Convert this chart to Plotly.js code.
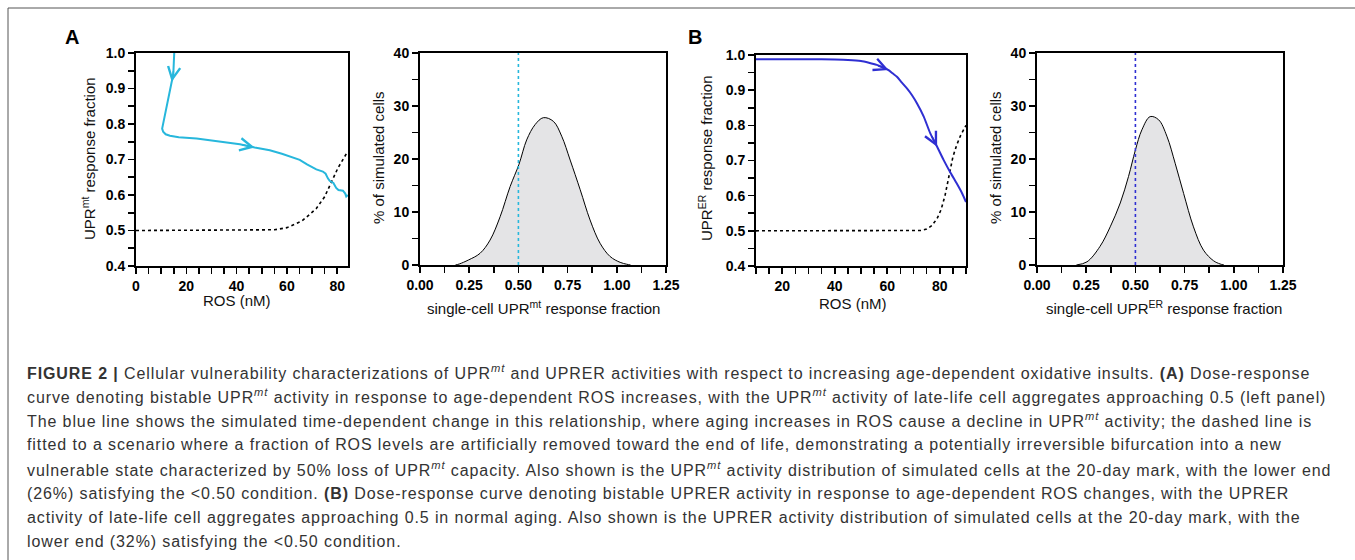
<!DOCTYPE html>
<html><head><meta charset="utf-8">
<script src="https://cdn.plot.ly/plotly-3.0.1.min.js"></script>
<style>
html,body{margin:0;padding:0;background:#fff;}
#chart{width:1355px;height:560px;}
g.annotation[data-index="0"] text, g.annotation[data-index="1"] text, g.annotation[data-index="2"] text,
g.annotation[data-index="3"] text, g.annotation[data-index="4"] text, g.annotation[data-index="5"] text,
g.annotation[data-index="6"] text, g.annotation[data-index="7"] text { letter-spacing: 0.9px; }
</style>
</head><body><div id="chart"></div>
<script>
// ---------- data ----------
// Panel A, left: UPRmt response vs ROS
const aCurveRos = [15.2, 15.1, 14.8, 14.2, 13.3, 12.2, 11.2, 10.5, 10.4, 10.8, 11.8, 13.5, 17, 24.1, 30, 35, 41.3, 47.2, 53.2, 58, 62.4, 65.1, 68, 71.7, 74.3, 75.4, 76.3, 77, 78.5, 79.6, 80.5, 82.3, 83.2, 83.6, 84.2];
const aCurveUpr = [1.0, 0.97, 0.935, 0.919, 0.89, 0.854, 0.82, 0.797, 0.787, 0.778, 0.771, 0.767, 0.763, 0.759, 0.754, 0.75, 0.743, 0.734, 0.726, 0.716, 0.706, 0.699, 0.686, 0.672, 0.666, 0.66, 0.647, 0.64, 0.634, 0.62, 0.614, 0.612, 0.604, 0.596, 0.6];
const aFitRos = [0, 10, 20, 30, 40, 50, 55, 60, 62.4, 66, 69, 71.7, 75, 77.6, 80.3, 83.8, 84.3];
const aFitUpr = [0.5, 0.5, 0.5, 0.5, 0.5, 0.5, 0.502, 0.508, 0.515, 0.527, 0.545, 0.562, 0.595, 0.633, 0.676, 0.718, 0.722];
const aArrowRos = [14.2, 47.2];
const aArrowUpr = [0.919, 0.734];
// Panel A, right: distribution of single-cell UPRmt response
const aHistFrac = [0.18, 0.2, 0.246, 0.305, 0.356, 0.407, 0.458, 0.503, 0.542, 0.585, 0.627, 0.678, 0.72, 0.763, 0.814, 0.864, 0.915, 0.966, 1.017, 1.05, 1.07];
const aHistPct  = [0, 0.2, 0.94, 2.2, 4.7, 9.1, 14.8, 19.0, 23.6, 26.5, 27.8, 27.1, 24.3, 19.8, 14.2, 8.5, 4.1, 1.6, 0.5, 0.15, 0];
// Panel B, left: UPRER response vs ROS
const bCurveRos = [10, 20, 30, 40, 45, 50, 53, 56, 58.5, 60.5, 62, 63.7, 65.5, 67.5, 69.5, 71.3, 73.9, 76.4, 79, 81.5, 84.1, 86.6, 88.5, 90];
const bCurveUpr = [0.988, 0.988, 0.988, 0.987, 0.986, 0.983, 0.978, 0.972, 0.965, 0.957, 0.948, 0.938, 0.922, 0.905, 0.885, 0.863, 0.825, 0.777, 0.739, 0.701, 0.665, 0.633, 0.607, 0.582];
const bFitRos = [10, 20, 30, 40, 50, 60, 70, 73, 75, 77, 79, 80.5, 82, 83.4, 85, 86.5, 88, 90];
const bFitUpr = [0.5, 0.5, 0.5, 0.5, 0.5, 0.5, 0.5, 0.501, 0.505, 0.515, 0.535, 0.56, 0.6, 0.655, 0.71, 0.745, 0.772, 0.8];
const bArrowRos = [60.5, 79];
const bArrowUpr = [0.957, 0.739];
// Panel B, right: distribution of single-cell UPRER response
const bHistFrac = [0.2, 0.254, 0.32, 0.372, 0.423, 0.465, 0.5, 0.533, 0.575, 0.618, 0.66, 0.702, 0.745, 0.795, 0.846, 0.897, 0.93, 0.95];
const bHistPct  = [0, 0.6, 3.5, 7.2, 11.7, 16.7, 21.7, 25.5, 28.0, 27.4, 24.3, 19.2, 13.5, 7.2, 2.8, 0.8, 0.2, 0];
// threshold and axis extents
const threshold = 0.5;
const pctRange = [0, 40];
const rosRangeA = [0, 84.3];
const rosRangeB = [10, 90];
const uprRange = [0.4, 1.0];
const fracRange = [0, 1.25];

const captionLines = [
  '<b>FIGURE 2 |</b> Cellular vulnerability characterizations of UPR<sup><i>mt</i></sup> and UPRER activities with respect to increasing age-dependent oxidative insults. <b>(A)</b> Dose-response',
  'curve denoting bistable UPR<sup><i>mt</i></sup> activity in response to age-dependent ROS increases, with the UPR<sup><i>mt</i></sup> activity of late-life cell aggregates approaching 0.5 (left panel)',
  'The blue line shows the simulated time-dependent change in this relationship, where aging increases in ROS cause a decline in UPR<sup><i>mt</i></sup> activity; the dashed line is',
  'fitted to a scenario where a fraction of ROS levels are artificially removed toward the end of life, demonstrating a potentially irreversible bifurcation into a new',
  'vulnerable state characterized by 50% loss of UPR<sup><i>mt</i></sup> capacity. Also shown is the UPR<sup><i>mt</i></sup> activity distribution of simulated cells at the 20-day mark, with the lower end',
  '(26%) satisfying the &lt;0.50 condition. <b>(B)</b> Dose-response curve denoting bistable UPRER activity in response to age-dependent ROS changes, with the UPRER',
  'activity of late-life cell aggregates approaching 0.5 in normal aging. Also shown is the UPRER activity distribution of simulated cells at the 20-day mark, with the',
  'lower end (32%) satisfying the &lt;0.50 condition.'
];

// ---------- layout helpers ----------
const W = 1355, H = 560;
const px = x => x / W;
const py = y => 1 - y / H;
const FONT = 'Liberation Sans, Arial, sans-serif';
const CYAN = '#27b7dc';
const BLUE = '#2f2fd2';

function axis(dom, range, dtick, minor, fmt, anchor) {
  return {
    domain: dom, range: range, anchor: anchor, dtick: dtick, tick0: 0,
    tickformat: fmt, showgrid: false, zeroline: false,
    showline: true, linecolor: '#000', linewidth: 2, mirror: true,
    ticks: 'outside', ticklen: 6, tickwidth: 1.6, tickcolor: '#000',
    tickfont: {family: FONT, size: 14, color: '#000', weight: 'bold'},
    minor: {dtick: minor, tick0: 0, ticks: 'outside', ticklen: 6, tickwidth: 1.6, tickcolor: '#000', showgrid: false},
    automargin: false, fixedrange: true
  };
}

const traces = [
  {x: aFitRos, y: aFitUpr, xaxis: 'x', yaxis: 'y', mode: 'lines', line: {color: '#000', width: 1.6, dash: 'dot'}},
  {x: aCurveRos, y: aCurveUpr, xaxis: 'x', yaxis: 'y', mode: 'lines', line: {color: CYAN, width: 2}},
  {x: aHistFrac, y: aHistPct, xaxis: 'x2', yaxis: 'y2', mode: 'lines', fill: 'tozeroy', fillcolor: '#e4e4e6', line: {color: '#000', width: 1, shape: 'spline', smoothing: 1}},
  {x: [threshold, threshold], y: pctRange, xaxis: 'x2', yaxis: 'y2', mode: 'lines', line: {color: CYAN, width: 1.6, dash: 'dot'}},
  {x: bFitRos, y: bFitUpr, xaxis: 'x3', yaxis: 'y3', mode: 'lines', line: {color: '#000', width: 1.6, dash: 'dot'}},
  {x: bCurveRos, y: bCurveUpr, xaxis: 'x3', yaxis: 'y3', mode: 'lines', line: {color: BLUE, width: 2, shape: 'spline', smoothing: 0.6}},
  {x: bHistFrac, y: bHistPct, xaxis: 'x4', yaxis: 'y4', mode: 'lines', fill: 'tozeroy', fillcolor: '#e4e4e6', line: {color: '#000', width: 1, shape: 'spline', smoothing: 1}},
  {x: [threshold, threshold], y: pctRange, xaxis: 'x4', yaxis: 'y4', mode: 'lines', line: {color: BLUE, width: 1.6, dash: 'dot'}}
];

function title(text, x, y, size, rot) {
  return {text: text, xref: 'paper', yref: 'paper', x: px(x), y: py(y), xanchor: 'center', yanchor: 'middle',
    showarrow: false, textangle: rot || 0, font: {family: FONT, size: size, color: '#111'}};
}
function arrow(xr, yr, x, y, ax, ay, color) {
  return {xref: xr, yref: yr, x: x, y: y, ax: ax, ay: ay, text: '', showarrow: true,
    arrowhead: 5, arrowsize: 1.5, arrowwidth: 1.6, arrowcolor: color};
}

const annotations = [];
// caption first (indices 0..7, letter-spaced through CSS)
captionLines.forEach((t, i) => {
  annotations.push({text: t, xref: 'paper', yref: 'paper', x: px(25), y: py(372 + i * 24.2), xanchor: 'left', yanchor: 'middle',
    showarrow: false, align: 'left', font: {family: FONT, size: 16, color: '#333'}});
});
annotations.push(
  {text: '<b>A</b>', xref: 'paper', yref: 'paper', x: px(72), y: py(37), xanchor: 'center', yanchor: 'middle', showarrow: false, font: {family: FONT, size: 20, color: '#000'}},
  {text: '<b>B</b>', xref: 'paper', yref: 'paper', x: px(695), y: py(37), xanchor: 'center', yanchor: 'middle', showarrow: false, font: {family: FONT, size: 20, color: '#000'}},
  title('ROS (nM)', 237, 300, 15),
  title('UPR<sup>mt</sup> response fraction', 88, 158, 15, -90),
  title('single-cell UPR<sup>mt</sup> response fraction', 543, 307, 15),
  title('% of simulated cells', 378, 158, 15, -90),
  title('ROS (nM)', 853, 303, 15),
  title('UPR<sup>ER</sup> response fraction', 705, 158, 15, -90),
  title('single-cell UPR<sup>ER</sup> response fraction', 1164, 307, 15),
  title('% of simulated cells', 995, 158, 15, -90),
  arrow('x', 'y', aArrowRos[0], aArrowUpr[0], 2, -12, CYAN),
  arrow('x', 'y', aArrowRos[1], aArrowUpr[1], -14, -3, CYAN),
  arrow('x3', 'y3', bArrowRos[0], bArrowUpr[0], -12, -5, BLUE),
  arrow('x3', 'y3', bArrowRos[1], bArrowUpr[1], -6, -12, BLUE)
);

const layout = {
  width: W, height: H, margin: {l: 0, r: 0, t: 0, b: 0}, paper_bgcolor: '#fff', plot_bgcolor: 'rgba(0,0,0,0)',
  showlegend: false, font: {family: FONT},
  xaxis:  axis([px(136), px(348)], rosRangeA, 20, 5, 'd', 'y'),
  yaxis:  axis([py(266), py(53)], uprRange, 0.1, 0.05, '.1f', 'x'),
  xaxis2: axis([px(420), px(666)], fracRange, 0.25, 0.125, '.2f', 'y2'),
  yaxis2: axis([py(265), py(53)], pctRange, 10, 5, 'd', 'x2'),
  xaxis3: axis([px(756), px(966)], rosRangeB, 20, 5, 'd', 'y3'),
  yaxis3: axis([py(266), py(55)], uprRange, 0.1, 0.05, '.1f', 'x3'),
  xaxis4: axis([px(1037), px(1283)], fracRange, 0.25, 0.125, '.2f', 'y4'),
  yaxis4: axis([py(265), py(53)], pctRange, 10, 5, 'd', 'x4'),
  annotations: annotations,
  shapes: [
    {type: 'line', xref: 'paper', yref: 'paper', x0: px(8), x1: px(8), y0: py(8), y1: py(560), line: {color: '#555', width: 1}},
    {type: 'line', xref: 'paper', yref: 'paper', x0: px(8), x1: px(1355), y0: py(8), y1: py(8), line: {color: '#555', width: 1}}
  ]
};

Plotly.newPlot('chart', traces, layout, {staticPlot: true, displayModeBar: false});
</script></body></html>
